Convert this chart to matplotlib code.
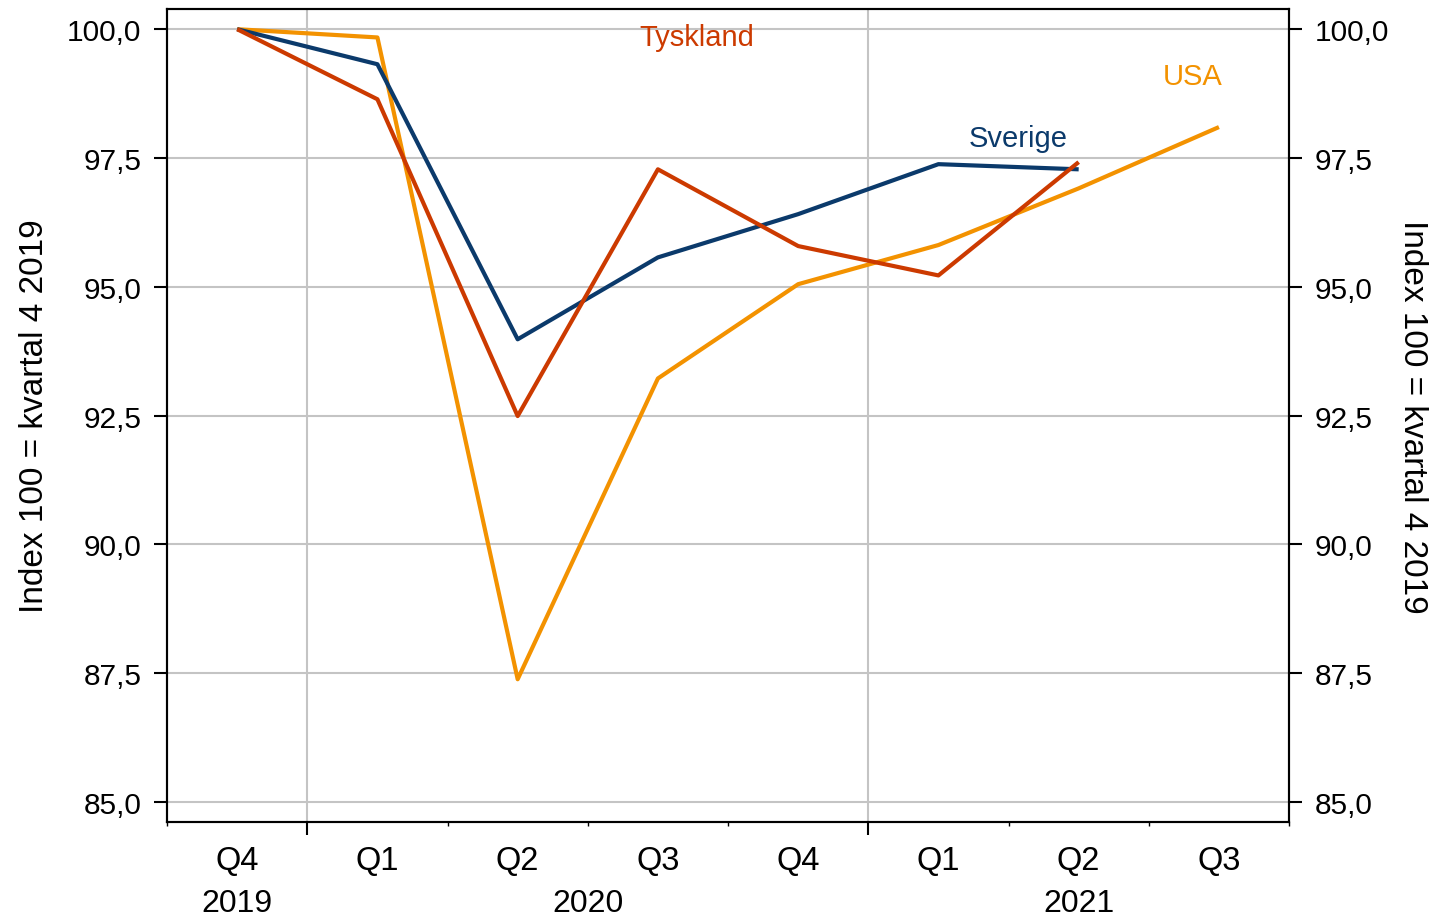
import numpy as np
import matplotlib
matplotlib.use('Agg')
import matplotlib.pyplot as plt
import matplotlib.transforms as mtransforms
from matplotlib.ticker import FixedLocator, NullFormatter

plt.rcParams['font.family'] = ['Liberation Sans', 'DejaVu Sans']

quarters = ['Q4', 'Q1', 'Q2', 'Q3', 'Q4', 'Q1', 'Q2', 'Q3']
years = ['2019', '2020', '2021']
year_centers = [0, 2.5, 6]

sverige = [100.0, 99.32, 93.98, 95.57, 96.41, 97.38, 97.28]
tyskland = [100.0, 98.64, 92.49, 97.28, 95.79, 95.22, 97.42]
usa = [100.0, 99.84, 87.38, 93.22, 95.05, 95.81, 96.91, 98.10]

c_se = '#0B3A6B'
c_de = '#CC3A00'
c_us = '#F39200'

fig = plt.figure(figsize=(14.5, 9.2), dpi=100)
ax = fig.add_axes([0.1152, 0.1055, 0.7738, 0.8835])

ax.plot(np.arange(len(usa)), usa, color=c_us, lw=3.0, solid_capstyle='butt', zorder=3)
ax.plot(np.arange(len(sverige)), sverige, color=c_se, lw=3.0, solid_capstyle='butt', zorder=4)
ax.plot(np.arange(len(tyskland)), tyskland, color=c_de, lw=3.0, solid_capstyle='butt', zorder=5)

ax.set_xlim(-0.5, 7.5)
ylim = (84.61, 100.39)
ax.set_ylim(*ylim)

yt = np.arange(85, 100.1, 2.5)
ylabels = [f'{v:.1f}'.replace('.', ',') for v in yt]
ax.set_yticks(yt)
ax.set_yticklabels(ylabels)
ax.tick_params(axis='y', which='major', direction='out', length=9.5, width=1.5,
               labelsize=21.5, pad=9)

# x axis: major ticks at year boundaries, minor at quarter boundaries
ax.xaxis.set_major_locator(FixedLocator([0.5, 4.5]))
ax.xaxis.set_minor_locator(FixedLocator([-0.5, 1.5, 2.5, 3.5, 5.5, 6.5, 7.5]))
ax.xaxis.set_major_formatter(NullFormatter())
ax.tick_params(axis='x', which='major', direction='out', length=9, width=1.5)
ax.tick_params(axis='x', which='minor', direction='out', length=3, width=1)

ax.grid(True, which='major', color='#C4C4C4', lw=1.5, zorder=0)
ax.set_axisbelow(True)

for s in ax.spines.values():
    s.set_linewidth(1.5)

trans = mtransforms.blended_transform_factory(ax.transData, ax.transAxes)
for i, q in enumerate(quarters):
    ax.text(i, -0.048, q, transform=trans, ha='center', va='center', fontsize=23.5)
for xc, yr in zip(year_centers, years):
    ax.text(xc, -0.1, yr, transform=trans, ha='center', va='center', fontsize=23)

ax.set_ylabel('Index 100 = kvartal 4 2019', fontsize=24, labelpad=12)

ax2 = ax.twinx()
ax2.set_ylim(*ylim)
ax2.set_yticks(yt)
ax2.set_yticklabels(ylabels)
ax2.tick_params(axis='y', direction='out', length=9.5, width=1.5, labelsize=21.5, pad=9)
for s in ax2.spines.values():
    s.set_linewidth(1.5)
ax2.set_ylabel('Index 100 = kvartal 4 2019', fontsize=24, rotation=-90, labelpad=28)

ax.text(3.28, 99.84, 'Tyskland', color=c_de, fontsize=21, ha='center', va='center')
ax.text(5.57, 97.88, 'Sverige', color=c_se, fontsize=21, ha='center', va='center')
ax.text(6.81, 99.09, 'USA', color=c_us, fontsize=21, ha='center', va='center')

fig.savefig('out.png', dpi=100)
